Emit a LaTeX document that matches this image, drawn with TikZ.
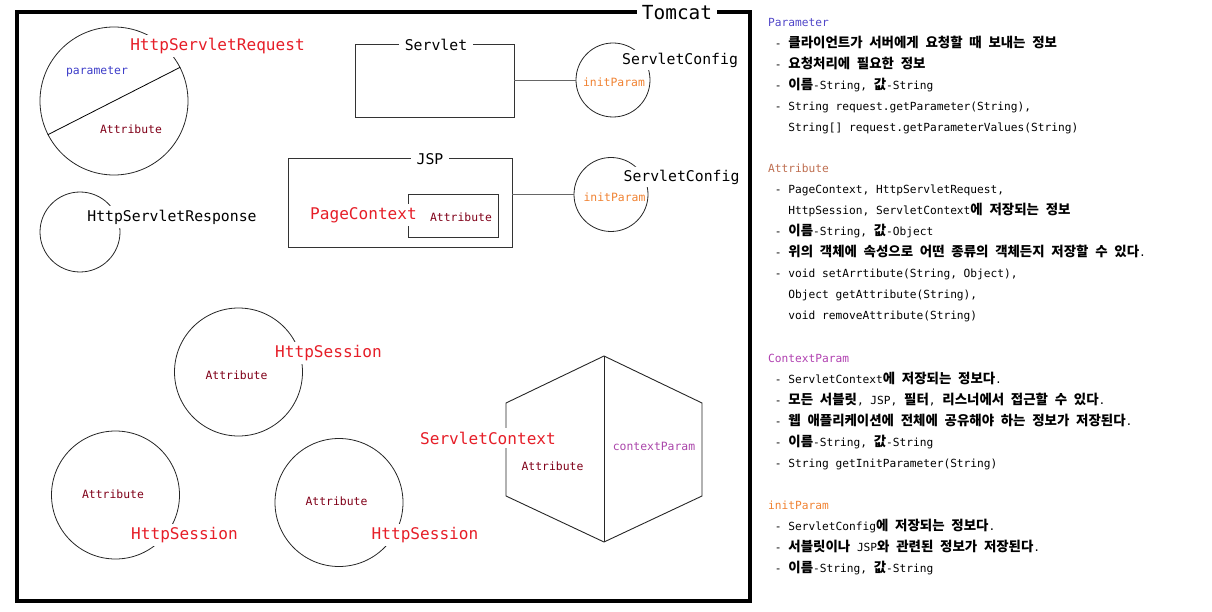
\documentclass[tikz,border=0pt]{standalone}
\usepackage{fontspec}
\setmainfont{DejaVu Sans Mono}
\newfontfamily\krfont[Scale=1.2]{Noto Sans CJK KR}
\newcommand\hk[1]{{\krfont\bfseries #1}}
\newcommand\ind{\hspace*{0.602em}}
\definecolor{tred}{RGB}{230,30,40}
\definecolor{attrred}{RGB}{128,0,24}
\definecolor{pblue}{RGB}{60,60,200}
\definecolor{iorange}{RGB}{240,130,50}
\definecolor{cpurple}{RGB}{170,70,170}
\definecolor{hattr}{RGB}{190,110,80}
\definecolor{hparam}{RGB}{80,70,200}
\definecolor{hctx}{RGB}{176,64,176}
\tikzset{
  circ/.style={circle, draw=black!85, line width=0.8pt, inner sep=0pt},
  boxx/.style={rectangle, draw=black!80, line width=0.9pt, inner sep=0pt},
  conn/.style={draw=black!60, line width=0.8pt},
  biglbl/.style={font=\fontsize{16.1}{19}\selectfont, text=tred, fill=white, inner sep=3pt},
  midlbl/.style={font=\fontsize{14.8}{18}\selectfont, fill=white, inner sep=4pt},
  smalllbl/.style={font=\fontsize{11.4}{14}\selectfont, inner sep=1pt},
  attrlbl/.style={smalllbl, text=attrred},
  sect/.style={font=\fontsize{11.2}{21}\selectfont, align=left, anchor=base west, inner sep=0pt},
}
\begin{document}
\begin{tikzpicture}[x=1pt,y=-1pt]
\useasboundingbox (0,0) rectangle (1212,612);
% Tomcat frame
\node[draw=black, line width=4pt, minimum width=733pt, minimum height=589pt, inner sep=0pt] (tomcat) at (383.5,306.5) {};
\node[font=\fontsize{19.4}{22}\selectfont, fill=white, inner sep=5pt] (tomcatlbl) at (677,13) {Tomcat};

% HttpServletRequest
\node[circ, minimum size=148pt] (req) at (114,101) {};
\draw[line width=0.8pt] (req.27) -- (req.207);
\node[biglbl] (reqlbl) at (217.5,46) {HttpServletRequest};
\node[smalllbl, text=pblue] (reqparam) at (97,72) {parameter};
\node[attrlbl] (reqattr) at (131,129) {Attribute};

% HttpServletResponse
\node[circ, minimum size=80pt] (resp) at (80,232) {};
\node[midlbl] (resplbl) at (172,217) {HttpServletResponse};

% Servlet
\node[boxx, minimum width=159pt, minimum height=73pt] (servlet) at (434.5,80.5) {};
\node[midlbl, inner sep=6pt] (servletlbl) at (436,45) {Servlet};
\node[circ, minimum size=74pt] (cfga) at (613,80) {};
\draw[conn] (cfga.west) -- (cfga.west -| servlet.east);
\node[midlbl, inner sep=3pt] (cfgalbl) at (680,60) {ServletConfig};
\node[smalllbl, text=iorange] (cfgaparam) at (614,82) {initParam};

% JSP
\node[boxx, minimum width=224pt, minimum height=89pt] (jsp) at (400,202.5) {};
\node[midlbl, inner sep=6pt] (jsplbl) at (430,159) {JSP};
\node[boxx, minimum width=90pt, minimum height=43pt] (jspattrbox) at (453,215.5) {};
\node[biglbl] (pagectx) at (363.5,215) {PageContext};
\node[attrlbl] (jspattr) at (461,217) {Attribute};
\node[circ, minimum size=74pt] (cfgb) at (611,194.5) {};
\draw[conn] (cfgb.west) -- (cfgb.west -| jsp.east);
\node[midlbl, inner sep=3pt] (cfgblbl) at (681.5,177) {ServletConfig};
\node[smalllbl, text=iorange] (cfgbparam) at (614.5,197) {initParam};

% Sessions
\node[circ, minimum size=128pt] (sesa) at (238.5,372) {};
\node[biglbl] (sesalbl) at (328.5,353) {HttpSession};
\node[attrlbl] (sesaattr) at (236.5,375) {Attribute};

\node[circ, minimum size=128pt] (sesb) at (115.5,495) {};
\node[attrlbl] (sesbattr) at (113,494) {Attribute};
\node[biglbl] (sesblbl) at (184.5,535) {HttpSession};

\node[circ, minimum size=128pt] (sesc) at (339,502.5) {};
\node[attrlbl] (sescattr) at (336.5,501) {Attribute};
\node[biglbl] (sesclbl) at (425,535) {HttpSession};

% ServletContext hexagon
\coordinate (hT) at (604,356);
\coordinate (hUL) at (506,403);
\coordinate (hLL) at (506,496);
\coordinate (hB) at (604,542);
\coordinate (hLR) at (702,496);
\coordinate (hUR) at (702,403);
\draw[line width=0.9pt, draw=black!85, line join=round] (hT) -- (hUL) -- (hLL) -- (hB) -- (hLR) -- (hUR) -- cycle;
\draw[line width=0.9pt, draw=black!85] (hT) -- (hB);
\node[biglbl, inner sep=4pt] (ctxlbl) at (488,438) {ServletContext};
\node[attrlbl] (ctxattr) at (552.5,466) {Attribute};
\node[smalllbl, text=cpurple] (ctxparam) at (654,446) {contextParam};

% Right-hand notes (anchored at the baseline of the last line)
\node[sect] (paramsec) at (768,131.5) {\textcolor{hparam}{Parameter}\\
\ind- \hk{클라이언트가} \hk{서버에게} \hk{요청할} \hk{때} \hk{보내는} \hk{정보}\\
\ind- \hk{요청처리에} \hk{필요한} \hk{정보}\\
\ind- \hk{이름}-String, \hk{값}-String\\
\ind- String request.getParameter(String),\\
\ind\ind\ind String[] request.getParameterValues(String)};

\node[sect] (attrsec) at (768,319.5) {\textcolor{hattr}{Attribute}\\
\ind- PageContext, HttpServletRequest,\\
\ind\ind\ind HttpSession, ServletContext\hk{에} \hk{저장되는} \hk{정보}\\
\ind- \hk{이름}-String, \hk{값}-Object\\
\ind- \hk{위의} \hk{객체에} \hk{속성으로} \hk{어떤} \hk{종류의} \hk{객체든지} \hk{저장할} \hk{수} \hk{있다}.\\
\ind- void setArrtibute(String, Object),\\
\ind\ind\ind Object getAttribute(String),\\
\ind\ind\ind void removeAttribute(String)};

\node[sect] (ctxsec) at (768,467.5) {\textcolor{hctx}{ContextParam}\\
\ind- ServletContext\hk{에} \hk{저장되는} \hk{정보다}.\\
\ind- \hk{모든} \hk{서블릿}, JSP, \hk{필터}, \hk{리스너에서} \hk{접근할} \hk{수} \hk{있다}.\\
\ind- \hk{웹} \hk{애플리케이션에} \hk{전체에} \hk{공유해야} \hk{하는} \hk{정보가} \hk{저장된다}.\\
\ind- \hk{이름}-String, \hk{값}-String\\
\ind- String getInitParameter(String)};

\node[sect] (initsec) at (768,572.5) {\textcolor{iorange}{initParam}\\
\ind- ServletConfig\hk{에} \hk{저장되는} \hk{정보다}.\\
\ind- \hk{서블릿이나} JSP\hk{와} \hk{관련된} \hk{정보가} \hk{저장된다}.\\
\ind- \hk{이름}-String, \hk{값}-String};
\end{tikzpicture}
\end{document}
